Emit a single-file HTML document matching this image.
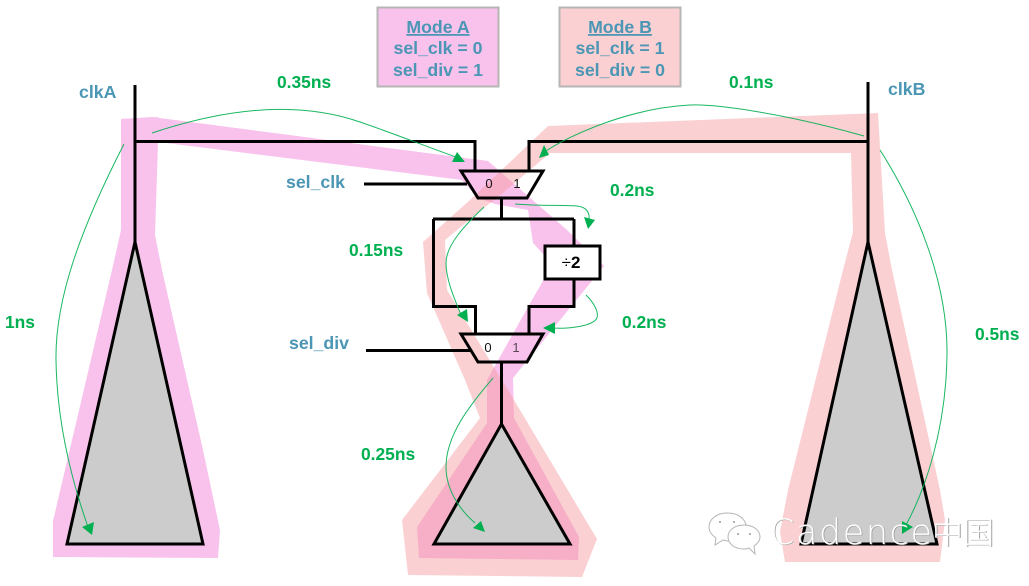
<!DOCTYPE html>
<html><head><meta charset="utf-8"><style>
html,body{margin:0;padding:0;background:#fff}
svg{display:block}
text{font-family:"Liberation Sans","Noto Sans CJK SC",sans-serif}
.g{fill:#00B050;font-weight:bold;font-size:17.4px}
.b{fill:#4A96B4;font-weight:bold;font-size:17.7px}
.w{fill:none;stroke:#000;stroke-width:3;stroke-linejoin:miter}
.a{fill:none;stroke:#00B050;stroke-width:1;opacity:.9}
.h{fill:#00B050}
.d{font-size:13px;fill:#111;text-anchor:middle}
.m{font-family:"DejaVu Sans",sans-serif;font-weight:200;font-size:35px}
.n{font-family:"Noto Sans CJK SC",sans-serif;font-weight:200;font-size:31px}
</style></head><body>
<svg width="1029" height="586" viewBox="0 0 1029 586" xmlns="http://www.w3.org/2000/svg">
<rect width="1029" height="586" fill="#fff"/>
<!-- pink paths -->
<g fill="#F9C2EC">
<polygon points="121,119 152,117 488,161 567,230 604,266 513,378 514,418 579,537 578,560 419,558 417,527 487,423 487,380 497,362 528,307 544,279 544,255 533,243 528,210 495,204 478,198 462,180 158,142"/>
<polygon points="121,119 158,117 158,142 155,235 162,270 203,450 220,530 218,558 53,557 53,521 112,270 121,230"/>
</g>
<!-- rose paths -->
<g style="fill:rgb(244,151,155)" opacity=".45">
<polygon points="878,113 548,126 470,200 423,242 427,293 465,380 480,418 402,520 408,575 582,577 597,539 514,400 447,290 445,240 485,207 497,198 550,153 851,153 853,232 843,270 788,490 780,532 785,562 940,562 945,520 940,490 892,270 885,233"/>
</g>
<!-- trees -->
<g fill="#CCCCCC" stroke="#000" stroke-width="3" stroke-linejoin="miter">
<polygon points="135,242 203,544 67,544"/>
<polygon points="868,242 937,544 801,544"/>
<polygon points="501.500,424 570,544 434,544"/>
</g>
<!-- wires -->
<g class="w">
<path d="M135,85V242M135,141.500H475V171"/>
<path d="M868,82V242M868,141.500H529V171"/>
<path d="M364,184H467"/>
<path d="M366,350.500H470"/>
<path d="M501.500,198V219M433,219H574M433.500,219V306.500H475.500V334M574,219V246M574,279V306.500H529V334M501.500,362V424"/>
</g>
<polygon class="w" points="461,171 543,171 527,198 478,198"/>
<polygon class="w" points="461,334 543,334 527,362 478,362"/>
<rect x="545" y="246" width="55" height="33" fill="#fff" stroke="#000" stroke-width="3"/>
<text x="489" y="188" class="d">0</text><text x="517" y="188" class="d">1</text>
<text x="488" y="352" class="d">0</text><text x="516" y="352" class="d" fill-opacity=".7">1</text>
<text x="571" y="268" text-anchor="middle" font-size="17" fill="#000"><tspan>÷</tspan><tspan font-weight="bold">2</tspan></text>
<!-- mode boxes -->
<rect x="377.500" y="7.500" width="121" height="79" fill="#F9C2EC" stroke="#B5B5B5" stroke-width="2"/>
<rect x="559.500" y="7.500" width="121" height="79" fill="#FAD0D2" stroke="#B5B5B5" stroke-width="2"/>
<g class="b" style="text-anchor:middle">
<text x="438" y="33" text-decoration="underline">Mode A</text>
<text x="438" y="54">sel_clk = 0</text>
<text x="438" y="76">sel_div = 1</text>
<text x="620" y="33" text-decoration="underline">Mode B</text>
<text x="620" y="54">sel_clk = 1</text>
<text x="620" y="76">sel_div = 0</text>
</g>
<!-- labels -->
<text class="b" x="79" y="98">clkA</text>
<text class="b" x="888" y="95">clkB</text>
<text class="b" x="286" y="188">sel_clk</text>
<text class="b" x="289" y="349">sel_div</text>
<text class="g" x="277" y="88">0.35ns</text>
<text class="g" x="729" y="88">0.1ns</text>
<text class="g" x="610" y="196">0.2ns</text>
<text class="g" x="349" y="256">0.15ns</text>
<text class="g" x="622" y="328">0.2ns</text>
<text class="g" x="5" y="328">1ns</text>
<text class="g" x="975" y="340">0.5ns</text>
<text class="g" x="361" y="460">0.25ns</text>
<!-- curved arrows -->
<path class="a" d="M152,133C215,112 290,98 360,122C395,134 425,146 456,157"/>
<polygon class="h" points="465,162 457,152 452,162"/>
<path class="a" d="M864,136C790,115 720,104 690,105C630,108 570,135 546,151"/>
<polygon class="h" points="539,158 549,155 544,145"/>
<path class="a" d="M124,144C80,230 55,300 56,360C57,430 75,490 88,527"/>
<polygon class="h" points="92,535 82,527 94,522"/>
<path class="a" d="M880,150C915,205 948,280 947,355C946,430 925,490 906,525"/>
<polygon class="h" points="902,534 902,521 913,527"/>
<path class="a" d="M515,204C540,206 560,205 577,206C586,207 590,212 589,220"/>
<polygon class="h" points="588,229 584,217 595,220"/>
<path class="a" d="M484,207C465,225 446,245 446,263C446,280 455,300 461,315"/>
<polygon class="h" points="468,322 457,315 467,309"/>
<path class="a" d="M586,295C594,303 599,312 597,318C593,326 570,329 553,328"/>
<polygon class="h" points="543,328 555,322 555,334"/>
<path class="a" d="M493,378C470,405 446,435 446,467C446,490 460,510 475,523"/>
<polygon class="h" points="485,532 473,528 481,521"/>
<!-- watermark -->
<g fill="#fff" stroke="#B5B5B5" stroke-width="1">
<path d="M727,513c-10,0-18,6-18,14 0,5 3,8 7,11l-1,7 8-5c2,0 3,1 5,1 8,0 14-3 17-8 4-6 0-20-18-20z"/>
<path d="M744,525c-9,0-16,5-16,12 0,7 7,12 16,12 2,0 3,0 5-1l6,6-1-8c3-2 6-5 6-9 0-7-7-12-16-12z"/>
</g>
<g fill="#999"><circle cx="720" cy="522" r="1"/><circle cx="734" cy="522" r="1"/><circle cx="738" cy="534" r="1"/><circle cx="750" cy="534" r="1"/></g>
<text class="m" x="770.800" y="544.700" textLength="162" lengthAdjust="spacing" fill="#A0A0A0">Cadence</text>
<text class="n" x="933" y="544.700" fill="#A0A0A0">中国</text>
<text class="m" x="770" y="544" textLength="162" lengthAdjust="spacing" fill="#fff">Cadence</text>
<text class="n" x="932" y="544" fill="#fff">中国</text>
</svg>
</body></html>
